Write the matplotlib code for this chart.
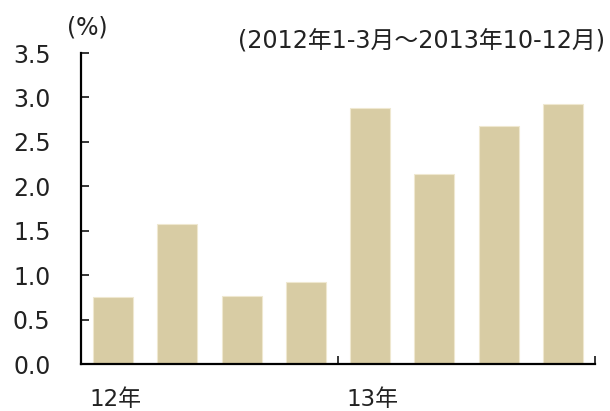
import matplotlib
matplotlib.use("Agg")
import matplotlib.pyplot as plt
import numpy as np

plt.rcParams['font.family'] = ['DejaVu Sans', 'Noto Sans CJK JP']

# quarterly values, 2012 Q1 - 2013 Q4
quarters = ["12Q1", "12Q2", "12Q3", "12Q4", "13Q1", "13Q2", "13Q3", "13Q4"]
values = [0.75, 1.58, 0.77, 0.92, 2.88, 2.14, 2.68, 2.93]
year_labels = ["12年", "13年"]
y_ticks = [0.0, 0.5, 1.0, 1.5, 2.0, 2.5, 3.0, 3.5]

fig = plt.figure(figsize=(6.10, 4.11), dpi=100)
ax = fig.add_axes([81 / 610, 1 - 364 / 411, 514 / 610, 311 / 411])

x = np.arange(len(values))
ax.bar(x, values, width=0.62, color="#d8cca4", edgecolor="#efe8d0", linewidth=0.8)

ax.set_xlim(-0.5, len(values) - 0.5)
ax.set_ylim(0, 3.5)
ax.set_yticks(y_ticks)
ax.set_yticklabels([f"{v:.1f}" for v in y_ticks], fontsize=17, color="#222222")
ax.tick_params(axis="y", direction="in", length=6, width=1.1, pad=22)

# year boundary ticks on x axis
ax.set_xticks([-0.5, 3.5, 7.5])
ax.set_xticklabels([])
ax.tick_params(axis="x", direction="in", length=6, width=1.1)
for pos, lab in zip([-0.5, 3.5], year_labels):
    ax.text(pos + 0.13, -0.405, lab, fontsize=16.5, ha="left", va="center",
            color="#222222", transform=ax.transData)

for side in ["top", "right"]:
    ax.spines[side].set_visible(False)
for side in ["left", "bottom"]:
    ax.spines[side].set_linewidth(1.6)
    ax.spines[side].set_color("black")

fig.text(67 / 610, 1 - 27 / 411, "(%)", fontsize=17, ha="left", va="center",
         color="#222222")
fig.text(605 / 610, 1 - 41 / 411, "(2012年1-3月～2013年10-12月)", fontsize=17.2,
         ha="right", va="center", color="#222222")

fig.savefig("out.png", dpi=100)
